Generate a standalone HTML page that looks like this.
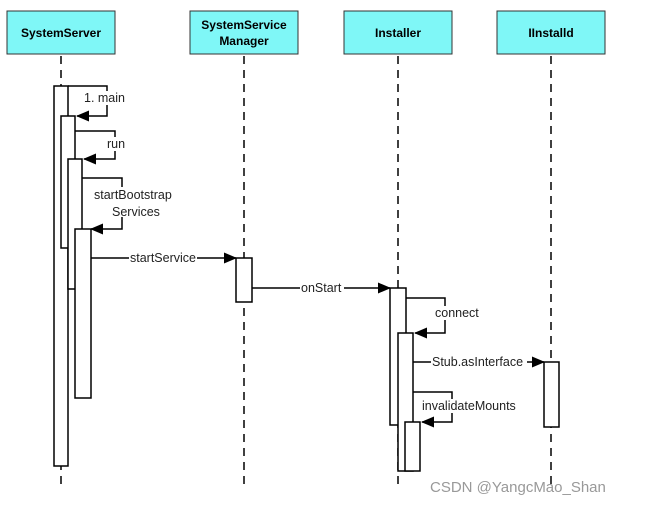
<!DOCTYPE html>
<html><head><style>
body{margin:0;background:#fff;width:653px;height:505px;overflow:hidden}
svg text{font-family:"Liberation Sans",sans-serif}
</style></head><body>
<svg width="653" height="505" xmlns="http://www.w3.org/2000/svg">
<defs><marker id="a" markerWidth="13" markerHeight="11" refX="12" refY="5.5" orient="auto" markerUnits="userSpaceOnUse"><path d="M0,0 L13,5.5 L0,11z" fill="#000"/></marker></defs>
<g fill="#7ff7f7" stroke="#333" stroke-width="1">
<rect x="7" y="11" width="108" height="43"/><rect x="190" y="11" width="108" height="43"/>
<rect x="344" y="11" width="108" height="43"/><rect x="497" y="11" width="108" height="43"/>
</g>
<g font-size="12" font-weight="bold" text-anchor="middle" fill="#000">
<text x="61" y="37">SystemServer</text><text x="244" y="29">SystemService</text><text x="244" y="45">Manager</text>
<text x="398" y="37">Installer</text><text x="551" y="37">IInstalld</text></g>
<g stroke="#000" stroke-width="1.5" stroke-dasharray="8,6" fill="none">
<path d="M61 56V490M244 56V490M398 56V490M551 56V490"/></g>
<g fill="#fff" stroke="#000" stroke-width="1.5">
<rect x="54" y="86" width="14" height="380"/><rect x="61" y="116" width="14" height="132"/>
<rect x="68" y="159" width="14" height="130"/><rect x="75" y="229" width="16" height="169"/>
<rect x="236" y="258" width="16" height="44"/>
<rect x="390" y="288" width="16" height="137"/><rect x="398" y="333" width="15" height="138"/>
<rect x="405" y="422" width="15" height="49"/><rect x="544" y="362" width="15" height="65"/>
</g>
<g stroke="#000" stroke-width="1.5" fill="none">
<path d="M68 86H107V116H77" marker-end="url(#a)"/>
<path d="M75 131H115V159H84" marker-end="url(#a)"/>
<path d="M82 178H122V229H91" marker-end="url(#a)"/>
<path d="M91 258H236" marker-end="url(#a)"/>
<path d="M252 288H390" marker-end="url(#a)"/>
<path d="M406 298H445V333H415" marker-end="url(#a)"/>
<path d="M413 362H544" marker-end="url(#a)"/>
<path d="M413 392H452V422H422" marker-end="url(#a)"/>
</g>
<g fill="#fff">
<rect x="84" y="91" width="44" height="14"/><rect x="106" y="137" width="20" height="14"/>
<rect x="94" y="187" width="82" height="30"/><rect x="129" y="251" width="68" height="14"/>
<rect x="300" y="281" width="44" height="14"/><rect x="434" y="306" width="48" height="14"/>
<rect x="431" y="355" width="96" height="14"/><rect x="421" y="399" width="102" height="14"/>
</g>
<g font-size="12.5" fill="#222">
<text x="84" y="102">1. main</text><text x="107" y="148">run</text>
<text x="94" y="199">startBootstrap</text><text x="112" y="216">Services</text>
<text x="130" y="262">startService</text>
<text x="301" y="292">onStart</text>
<text x="435" y="317">connect</text>
<text x="432" y="366">Stub.asInterface</text>
<text x="422" y="410">invalidateMounts</text>
</g>
<text x="430" y="492" font-size="15" fill="#999">CSDN @YangcMao_Shan</text>
</svg>
</body></html>
